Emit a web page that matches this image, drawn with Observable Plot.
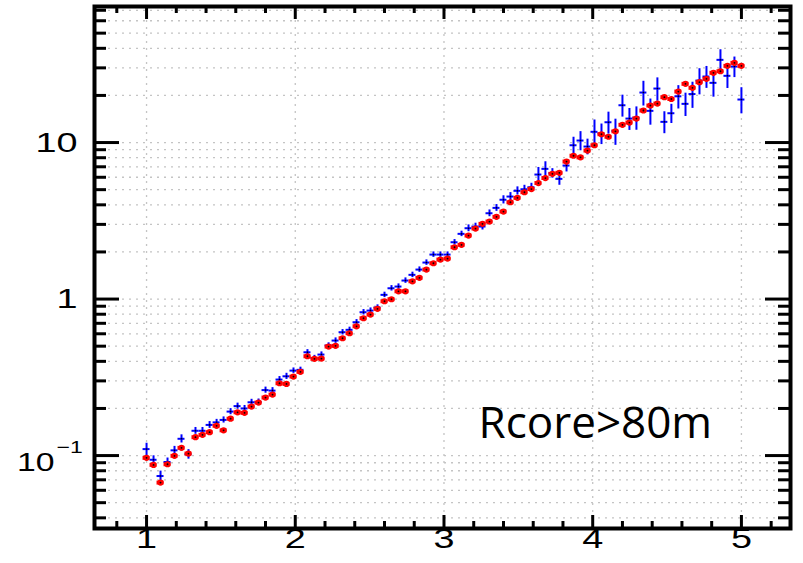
<!DOCTYPE html>
<html><head><meta charset="utf-8">
<script src="https://cdn.jsdelivr.net/npm/d3@7"></script>
<script src="https://cdn.jsdelivr.net/npm/@observablehq/plot@0.6"></script>
<style>body{margin:0;background:#fff;overflow:hidden}</style>
</head><body><div id="chart"></div>
<script>
const xBins = [1.000,1.047,1.094,1.141,1.188,1.235,1.282,1.329,1.376,1.424,
 1.471,1.518,1.565,1.612,1.659,1.706,1.753,1.800,1.847,1.894,
 1.941,1.988,2.035,2.082,2.129,2.176,2.224,2.271,2.318,2.365,
 2.412,2.459,2.506,2.553,2.600,2.647,2.694,2.741,2.788,2.835,
 2.882,2.929,2.976,3.024,3.071,3.118,3.165,3.212,3.259,3.306,
 3.353,3.400,3.447,3.494,3.541,3.588,3.635,3.682,3.729,3.776,
 3.824,3.871,3.918,3.965,4.012,4.059,4.106,4.153,4.200,4.247,
 4.294,4.341,4.388,4.435,4.482,4.529,4.576,4.624,4.671,4.718,
 4.765,4.812,4.859,4.906,4.953,5.000];
const blueVals = [0.110,0.094,0.074,0.091,0.108,0.128,0.102,0.144,0.144,0.157,
 0.163,0.169,0.191,0.207,0.200,0.219,0.220,0.262,0.260,0.306,
 0.321,0.349,0.353,0.457,0.420,0.442,0.505,0.543,0.614,0.636,
 0.711,0.824,0.844,0.883,1.064,1.172,1.202,1.313,1.428,1.543,
 1.711,1.924,1.924,1.924,2.307,2.610,2.835,2.907,2.907,3.534,
 3.825,4.311,4.518,4.915,5.030,5.181,6.245,6.790,6.365,5.861,
 7.129,9.610,10.30,9.428,11.71,11.42,13.48,11.85,17.31,14.23,
 14.44,20.87,15.94,22.13,13.56,15.39,19.74,17.67,20.41,24.90,
 26.41,24.07,33.76,26.69,30.59,18.83];
const blueRelErr = [0.09,0.06,0.075,0.06,0.06,0.06,0.07,0.05,0.05,0.05,
 0.045,0.045,0.045,0.045,0.045,0.045,0.045,0.045,0.045,0.045,
 0.045,0.04,0.04,0.04,0.04,0.04,0.04,0.04,0.04,0.04,
 0.04,0.04,0.04,0.04,0.04,0.04,0.04,0.04,0.04,0.04,
 0.04,0.04,0.04,0.04,0.04,0.04,0.05,0.05,0.05,0.05,
 0.05,0.06,0.06,0.06,0.06,0.06,0.11,0.11,0.07,0.09,
 0.09,0.125,0.14,0.115,0.19,0.15,0.16,0.19,0.16,0.16,
 0.17,0.18,0.19,0.17,0.16,0.14,0.17,0.17,0.19,0.19,
 0.16,0.19,0.16,0.17,0.15,0.19];
const redVals = [0.0967,0.0872,0.0672,0.0880,0.0996,0.112,0.103,0.131,0.1356,0.141,
 0.155,0.145,0.172,0.189,0.1875,0.2056,0.218,0.2348,0.2453,0.2897,
 0.287,0.3197,0.3426,0.431,0.415,0.4168,0.497,0.5023,0.5617,0.6045,
 0.670,0.754,0.796,0.866,0.968,0.997,1.121,1.121,1.299,1.366,
 1.543,1.693,1.788,1.815,2.143,2.220,2.546,2.822,3.024,3.128,
 3.352,3.623,4.155,4.433,4.814,5.045,5.510,5.933,6.310,6.404,
 7.560,8.236,8.040,8.890,9.610,11.30,10.89,11.79,12.98,13.42,
 14.23,16.02,17.24,17.75,19.48,18.97,21.18,23.72,22.37,24.29,
 25.53,27.89,28.55,30.90,32.30,30.90];
const xMajorTicks = [1, 2, 3, 4, 5];
const xMinorTicks = [0.8,1.2,1.4,1.6,1.8,2.2,2.4,2.6,2.8,3.2,3.4,3.6,3.8,4.2,4.4,4.6,4.8,5.2];
const yMajorTicks = [0.1, 1, 10];
const yMinorTicks = [0.04,0.05,0.06,0.07,0.08,0.09,0.2,0.3,0.4,0.5,0.6,0.7,0.8,0.9,2,3,4,5,6,7,8,9,20,30,40,50,60,70];
const yPlainLabels = [{v: 1, t: "1"}, {v: 10, t: "10"}];
const annotation = "Rcore>80m";

const W = 803, H = 563, mL = 94, mR = 13, mT = 6, mB = 35;
const innerH = H - mT - mB, innerW = W - mL - mR;
const halfBin = 0.0235;
const blue = xBins.map((x, i) => ({x, y: blueVals[i], e: blueVals[i] * blueRelErr[i]}));
const red = xBins.map((x, i) => ({x, y: redVals[i]}));
const gridStyle = {stroke: "#c4c4c4", strokeWidth: 1.3, strokeDasharray: "2,5"};
const tk = {stroke: "black", strokeWidth: 3};
const font = "'Liberation Sans', Arial, Helvetica, sans-serif";
const lab = {fill: "black"};

const chart = Plot.plot({
  width: W, height: H,
  marginLeft: mL, marginRight: mR, marginTop: mT, marginBottom: mB,
  x: {domain: [0.65, 5.33], axis: null},
  y: {type: "log", domain: [0.0342, 74], axis: null},
  style: {fontFamily: font, background: "white", color: "black"},
  marks: [
    Plot.ruleY(yMajorTicks.concat(yMinorTicks), gridStyle),
    Plot.ruleX(xMajorTicks, gridStyle),
    Plot.ruleX(blue, {x: "x", y1: d => d.y - d.e, y2: d => d.y + d.e, stroke: "#0000ff", strokeWidth: 2}),
    Plot.ruleY(blue, {y: "y", x1: d => d.x - halfBin, x2: d => d.x + halfBin, stroke: "#0000ff", strokeWidth: 2}),
    Plot.dot(blue, {x: "x", y: "y", r: 0.8, fill: "black"}),
    Plot.ruleY(red, {y: "y", x1: d => d.x - halfBin, x2: d => d.x + halfBin, stroke: "#ff0000", strokeWidth: 4}),
    Plot.dot(red, {x: "x", y: "y", r: 3.1, fill: "#ff0000"}),
    Plot.dot(red, {x: "x", y: "y", r: 0.9, fill: "black"}),
    Plot.tickX(xMajorTicks, {insetTop: innerH - 13, ...tk}),
    Plot.tickX(xMajorTicks, {insetBottom: innerH - 13, ...tk}),
    Plot.tickX(xMinorTicks, {insetTop: innerH - 7, ...tk}),
    Plot.tickX(xMinorTicks, {insetBottom: innerH - 7, ...tk}),
    Plot.tickY(yMajorTicks, {insetRight: innerW - 25, ...tk}),
    Plot.tickY(yMajorTicks, {insetLeft: innerW - 25, ...tk}),
    Plot.tickY(yMinorTicks, {insetRight: innerW - 12, ...tk}),
    Plot.tickY(yMinorTicks, {insetLeft: innerW - 12, ...tk}),
    Plot.frame({stroke: "black", strokeWidth: 4}),
    Plot.text(xMajorTicks, {x: d => d, frameAnchor: "bottom", dy: 19, text: d => String(d), fontSize: 28, ...lab}),
    Plot.text(yPlainLabels, {y: "v", text: "t", frameAnchor: "left", dx: -17, textAnchor: "end", fontSize: 28, ...lab}),
    Plot.text([0.1], {y: d => d, text: () => "10", frameAnchor: "left", dx: -40, dy: 7, textAnchor: "end", fontSize: 25, ...lab}),
    Plot.text([0.1], {y: d => d, text: () => "\u22121", frameAnchor: "left", dx: -38, dy: -8, textAnchor: "start", fontSize: 17, ...lab}),
    Plot.text([annotation], {x: () => 3.232, y: () => 0.13, text: d => d, textAnchor: "start", lineAnchor: "bottom", fontSize: 44, fontFamily: "'Open Sans', sans-serif", fill: "black"})
  ]
});
// widen the tick-label glyphs horizontally, as in the reference rendering
chart.querySelectorAll("text").forEach(t => {
  if (t.textContent === annotation) return;
  const tr = t.getAttribute("transform") || "";
  t.setAttribute("transform", tr + " scale(1.35,1)");
});
document.getElementById("chart").appendChild(chart);
</script>
</body></html>
